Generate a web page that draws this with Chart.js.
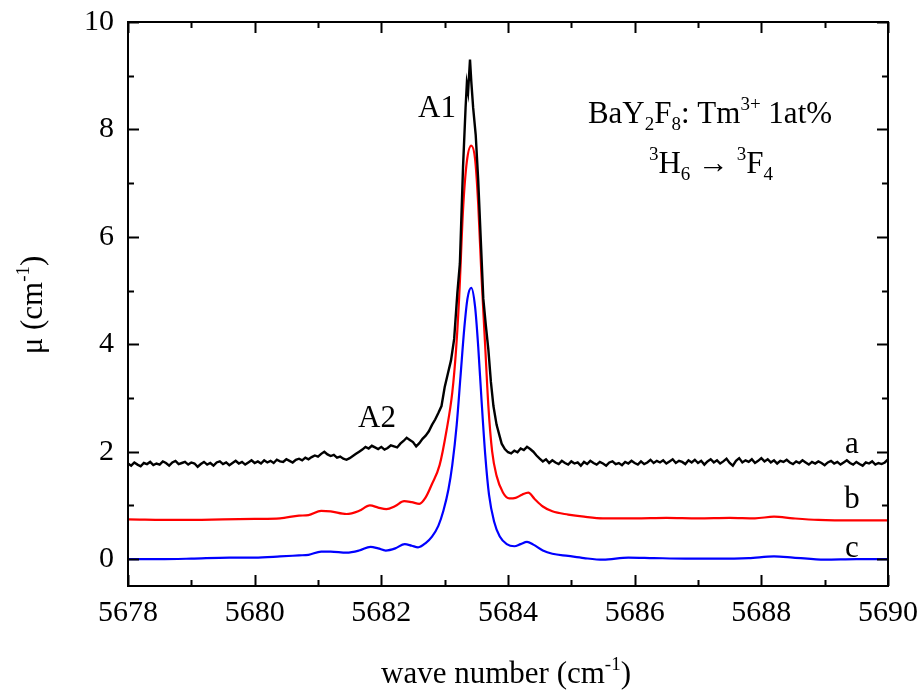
<!DOCTYPE html>
<html>
<head>
<meta charset="utf-8">
<script src="https://cdn.jsdelivr.net/npm/chart.js@4.4.0/dist/chart.umd.min.js"></script>
<style>
  html, body { margin: 0; padding: 0; background: #fff; }
  #wrap { width: 924px; height: 695px; }
</style>
</head>
<body>
<div id="wrap"><canvas id="spectre" width="924" height="695"></canvas></div>
<script>
// Eixo x: número de onda (cm-1)
const xMin = 5678
const xMax = 5690
const yMin = -0.5
const yMax = 10
const xTickLabels = [5678, 5680, 5682, 5684, 5686, 5688, 5690]
const yTickLabels = [0, 2, 4, 6, 8, 10]

// Curva a (preta, ruidosa): trecho esquerdo, passo 0.05 a partir de 5678.00
const stepA = 0.05
const aLeftStart = 5678.0
const aLeft = [
  1.78, 1.74, 1.80, 1.76, 1.73, 1.79, 1.77, 1.81, 1.75, 1.78,
  1.76, 1.82, 1.79, 1.74, 1.80, 1.83, 1.77, 1.79, 1.81, 1.76,
  1.80, 1.78, 1.72, 1.77, 1.81, 1.76, 1.79, 1.74, 1.80, 1.82,
  1.77, 1.80, 1.75, 1.79, 1.83, 1.78, 1.81, 1.76, 1.80, 1.84,
  1.79, 1.82, 1.78, 1.84, 1.80, 1.83, 1.79, 1.85, 1.82, 1.81,
  1.86, 1.83, 1.80, 1.85, 1.87, 1.84, 1.89, 1.86, 1.90, 1.93,
  1.91, 1.96, 2.00, 1.95, 1.92, 1.94, 1.89, 1.91, 1.87, 1.85,
  1.88, 1.92, 1.96, 2.00, 2.04, 2.09, 2.06, 2.11, 2.08, 2.05,
  2.09, 2.04, 2.07, 2.12, 2.10, 2.08, 2.15, 2.20, 2.26, 2.22,
  2.18, 2.10, 2.16, 2.24, 2.30, 2.38, 2.50, 2.60, 2.72
]
// Curva a: pico A1
const aPeakX = [5682.95, 5683.00, 5683.05, 5683.10, 5683.15, 5683.20, 5683.24, 5683.29, 5683.33, 5683.35,
  5683.37, 5683.40, 5683.42, 5683.45, 5683.49, 5683.53, 5683.57, 5683.61, 5683.65, 5683.69,
  5683.73, 5683.77, 5683.82, 5683.87]
const aPeakY = [2.85, 3.20, 3.45, 3.70, 4.10, 4.95, 5.50, 7.30, 8.40, 8.85,
  8.70, 9.30, 8.90, 8.40, 7.90, 7.05, 5.95, 4.85, 4.35, 3.90,
  3.30, 2.85, 2.50, 2.28]
// Curva a: trecho direito, passo 0.05 a partir de 5683.90
const aRightStart = 5683.9
const aRight = [
  2.15, 2.05, 1.99, 1.97, 2.02, 1.99, 2.06, 2.03, 2.09, 2.05,
  2.00, 1.93, 1.87, 1.82, 1.86, 1.79, 1.84, 1.80, 1.77, 1.83,
  1.79, 1.76, 1.82, 1.78, 1.80, 1.74, 1.81, 1.77, 1.83, 1.79,
  1.76, 1.81, 1.78, 1.74, 1.80, 1.82, 1.77, 1.79, 1.75, 1.81,
  1.78, 1.83, 1.79, 1.76, 1.82, 1.77, 1.80, 1.85, 1.79, 1.83,
  1.80, 1.84, 1.78, 1.82, 1.86, 1.79, 1.83, 1.81, 1.77, 1.84,
  1.80, 1.85, 1.79, 1.83, 1.76, 1.82, 1.86, 1.80, 1.84, 1.78,
  1.82, 1.87, 1.79, 1.74, 1.83, 1.88, 1.80, 1.84, 1.81, 1.86,
  1.79, 1.83, 1.88, 1.82, 1.86, 1.80, 1.84, 1.78, 1.83, 1.81,
  1.85, 1.80, 1.77, 1.82, 1.79, 1.84, 1.80, 1.76, 1.81, 1.78,
  1.82, 1.79, 1.75, 1.80, 1.83, 1.78, 1.81, 1.76, 1.80, 1.84,
  1.79, 1.76, 1.81, 1.77, 1.74, 1.80, 1.78, 1.82, 1.76, 1.79,
  1.77, 1.80, 1.86
]

// Curva b (vermelha)
const bX = [5678.0, 5678.8, 5679.5, 5680.0, 5680.4, 5680.7, 5680.85, 5681.05, 5681.2, 5681.45,
  5681.65, 5681.82, 5681.95, 5682.08, 5682.22, 5682.36, 5682.48, 5682.6, 5682.7, 5682.8,
  5682.92, 5683.03, 5683.12, 5683.18, 5683.23, 5683.29, 5683.35, 5683.42, 5683.48, 5683.53,
  5683.58, 5683.64, 5683.69, 5683.75, 5683.82, 5683.92, 5684.02, 5684.12, 5684.22, 5684.32,
  5684.42, 5684.55, 5684.7, 5684.95, 5685.2, 5685.5, 5686.0, 5686.5, 5687.0, 5687.5,
  5687.9, 5688.2, 5688.5, 5688.9, 5689.5, 5690.0]
const bY = [0.74, 0.73, 0.74, 0.75, 0.76, 0.81, 0.82, 0.90, 0.89, 0.84,
  0.90, 1.00, 0.96, 0.93, 0.99, 1.08, 1.06, 1.03, 1.15, 1.40,
  1.75, 2.40, 3.10, 3.90, 4.90, 6.50, 7.40, 7.70, 7.45, 6.60,
  5.30, 3.96, 2.85, 2.00, 1.55, 1.24, 1.13, 1.14, 1.20, 1.24,
  1.12, 0.98, 0.89, 0.83, 0.79, 0.76, 0.76, 0.77, 0.76, 0.77,
  0.76, 0.79, 0.76, 0.73, 0.72, 0.72]

// Curva c (azul)
const cX = [5678.0, 5678.5, 5679.0, 5679.6, 5680.0, 5680.4, 5680.7, 5680.85, 5681.05, 5681.2,
  5681.45, 5681.65, 5681.83, 5681.95, 5682.07, 5682.22, 5682.37, 5682.48, 5682.58, 5682.7,
  5682.8, 5682.9, 5682.98, 5683.06, 5683.12, 5683.19, 5683.25, 5683.31, 5683.36, 5683.42,
  5683.48, 5683.53, 5683.58, 5683.64, 5683.7, 5683.78, 5683.87, 5683.98, 5684.1, 5684.2,
  5684.3, 5684.4, 5684.55, 5684.7, 5684.95, 5685.2, 5685.5, 5685.9, 5686.3, 5686.8,
  5687.3, 5687.8, 5688.2, 5688.5, 5689.0, 5689.5, 5690.0]
const cY = [0.00, 0.00, 0.01, 0.03, 0.03, 0.05, 0.07, 0.08, 0.14, 0.14,
  0.12, 0.16, 0.23, 0.20, 0.16, 0.20, 0.28, 0.25, 0.22, 0.30,
  0.42, 0.62, 0.90, 1.30, 1.75, 2.50, 3.40, 4.30, 4.85, 5.05,
  4.70, 3.95, 3.00, 1.95, 1.20, 0.70, 0.42, 0.28, 0.24, 0.28,
  0.32, 0.27, 0.16, 0.10, 0.06, 0.02, -0.01, 0.03, 0.02, 0.01,
  0.01, 0.02, 0.05, 0.03, -0.01, 0.00, 0.00]

// monta os pontos {x, y}
function pontos(xs, ys) {
  return xs.map((x, i) => ({ x: x, y: ys[i] }))
}
function pontosPasso(inicio, passo, ys) {
  return ys.map((y, i) => ({ x: +(inicio + i * passo).toFixed(2), y: y }))
}
const curvaA = [].concat(
  pontosPasso(aLeftStart, stepA, aLeft),
  pontos(aPeakX, aPeakY),
  pontosPasso(aRightStart, stepA, aRight)
)

const fonte = '"Liberation Serif", "DejaVu Serif", serif'

// texto com sobrescritos/subscritos: partes = [[texto, deslocamento]] (-1 sup, 1 sub, 0 normal)
function textoRico(ctx, partes, x, y, tam, alinhar) {
  const pequeno = Math.round(tam * 0.62)
  let largura = 0
  partes.forEach(p => {
    ctx.font = (p[1] === 0 ? tam : pequeno) + 'px ' + fonte
    largura += ctx.measureText(p[0]).width
  })
  let cx = alinhar === 'center' ? x - largura / 2 : x
  ctx.textAlign = 'left'
  ctx.textBaseline = 'alphabetic'
  partes.forEach(p => {
    ctx.font = (p[1] === 0 ? tam : pequeno) + 'px ' + fonte
    let dy = 0
    if (p[1] < 0) dy = -tam * 0.42
    if (p[1] > 0) dy = tam * 0.22
    ctx.fillText(p[0], cx, y + dy)
    cx += ctx.measureText(p[0]).width
  })
}

// moldura, ticks para dentro, títulos e rótulos
const moldura = {
  id: 'moldura',
  afterDraw(chart) {
    const ctx = chart.ctx
    const a = chart.chartArea
    const sx = chart.scales.x
    const sy = chart.scales.y
    ctx.save()
    ctx.strokeStyle = '#000'
    ctx.lineWidth = 2
    ctx.strokeRect(a.left, a.top, a.right - a.left, a.bottom - a.top)

    ctx.beginPath()
    for (let v = xMin; v <= xMax; v++) {
      const px = Math.round(sx.getPixelForValue(v)) + 0.5
      const len = v % 2 === 0 ? 11 : 6
      ctx.moveTo(px, a.bottom); ctx.lineTo(px, a.bottom - len)
      ctx.moveTo(px, a.top); ctx.lineTo(px, a.top + len)
    }
    for (let v = 0; v <= yMax; v++) {
      const py = Math.round(sy.getPixelForValue(v)) + 0.5
      const len = v % 2 === 0 ? 11 : 6
      ctx.moveTo(a.left, py); ctx.lineTo(a.left + len, py)
      ctx.moveTo(a.right, py); ctx.lineTo(a.right - len, py)
    }
    ctx.stroke()

    ctx.fillStyle = '#000'
    // título eixo x
    textoRico(ctx, [['wave number (cm', 0], ['-1', -1], [')', 0]], 506, 683, 31, 'center')
    // título eixo y
    ctx.save()
    ctx.translate(42, 305)
    ctx.rotate(-Math.PI / 2)
    textoRico(ctx, [['\u03bc (cm', 0], ['-1', -1], [')', 0]], 0, 0, 31, 'center')
    ctx.restore()

    textoRico(ctx, [['A1', 0]], 437, 117, 31, 'center')
    textoRico(ctx, [['A2', 0]], 377, 427, 31, 'center')
    textoRico(ctx, [['a', 0]], 852, 453, 31, 'center')
    textoRico(ctx, [['b', 0]], 852, 508, 31, 'center')
    textoRico(ctx, [['c', 0]], 852, 557, 31, 'center')

    textoRico(ctx, [['BaY', 0], ['2', 1], ['F', 0], ['8', 1], [': Tm', 0], ['3+', -1], [' 1at%', 0]], 710, 123, 31, 'center')
    textoRico(ctx, [['3', -1], ['H', 0], ['6', 1], [' \u2192 ', 0], ['3', -1], ['F', 0], ['4', 1]], 711, 173, 31, 'center')
    ctx.restore()
  }
}

const ctx = document.getElementById('spectre').getContext('2d')
new Chart(ctx, {
  type: 'line',
  data: {
    datasets: [
      {
        label: 'a',
        data: curvaA,
        borderColor: '#000000',
        borderWidth: 2.4,
        pointRadius: 0,
        tension: 0,
        order: 0,
      },
      {
        label: 'b',
        data: pontos(bX, bY),
        borderColor: '#ff0000',
        borderWidth: 2.2,
        pointRadius: 0,
        cubicInterpolationMode: 'monotone',
        order: 1,
      },
      {
        label: 'c',
        data: pontos(cX, cY),
        borderColor: '#0000ff',
        borderWidth: 2.2,
        pointRadius: 0,
        cubicInterpolationMode: 'monotone',
        order: 2,
      },
    ],
  },
  options: {
    responsive: false,
    animation: false,
    parsing: false,
    layout: { padding: { left: 0, top: 22, right: 36, bottom: 0 } },
    plugins: {
      legend: { display: false },
      tooltip: { enabled: false },
    },
    scales: {
      x: {
        type: 'linear',
        min: xMin,
        max: xMax,
        grid: { display: false, drawTicks: false },
        border: { display: false },
        afterBuildTicks: s => { s.ticks = xTickLabels.map(v => ({ value: v })) },
        afterFit: s => { s.height = 109; s.paddingLeft = 0; s.paddingRight = 0 },
        ticks: {
          color: '#000',
          padding: 9,
          maxRotation: 0,
          font: { family: fonte, size: 30 },
          callback: v => String(v),
        },
      },
      y: {
        type: 'linear',
        min: yMin,
        max: yMax,
        grid: { display: false, drawTicks: false },
        border: { display: false },
        afterBuildTicks: s => { s.ticks = yTickLabels.map(v => ({ value: v })) },
        afterFit: s => { s.width = 128; s.paddingTop = 0; s.paddingBottom = 0 },
        ticks: {
          color: '#000',
          padding: 14,
          font: { family: fonte, size: 30 },
          callback: v => String(v),
        },
      },
    },
  },
  plugins: [moldura],
})
</script>
</body>
</html>
